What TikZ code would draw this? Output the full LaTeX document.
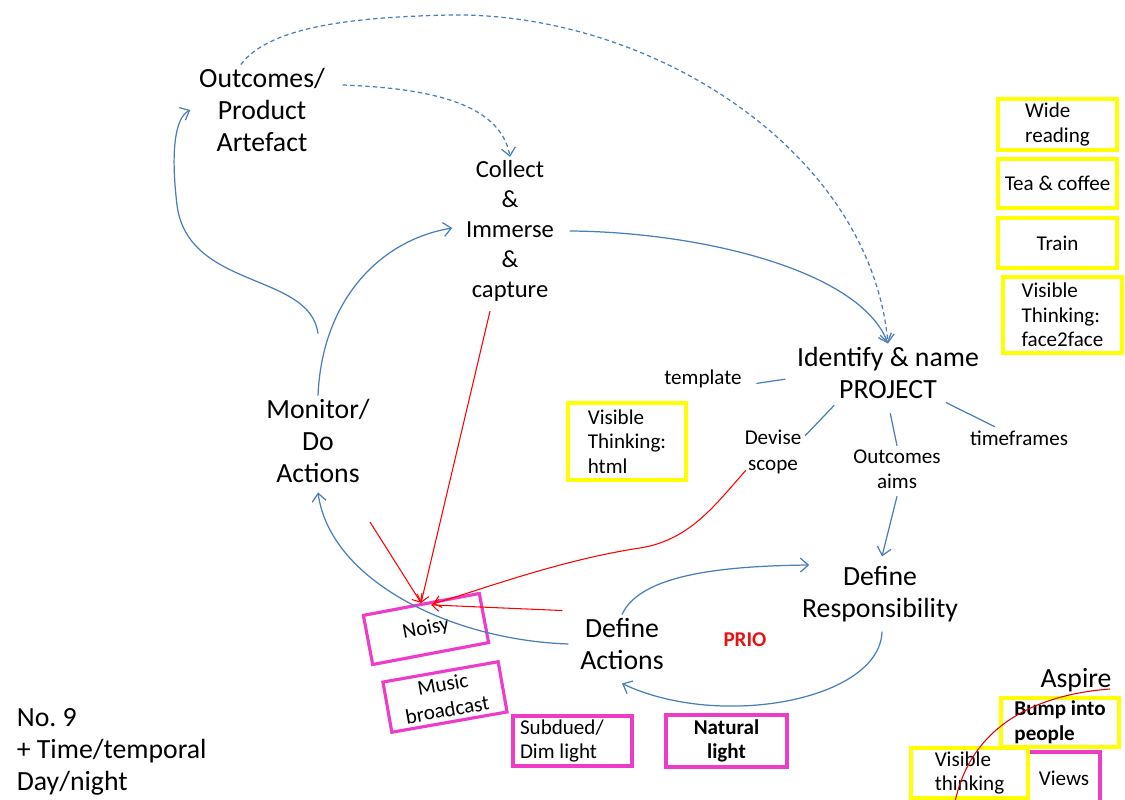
\documentclass[tikz,border=0pt]{standalone}
\usepackage{fontspec}
\setmainfont{Carlito}
\usetikzlibrary{arrows.meta}
\definecolor{lineblue}{RGB}{74,126,187}
\definecolor{boxyellow}{RGB}{255,255,0}
\definecolor{boxpink}{RGB}{238,60,200}
\definecolor{prioRed}{RGB}{228,20,20}
\begin{document}
\begin{tikzpicture}[x=0.02cm,y=-0.02cm,
  lbl/.style={font=\fontsize{15.8}{18.1}\selectfont, align=center, inner sep=2pt},
  lblc/.style={font=\fontsize{14}{17}\selectfont, align=center, inner sep=2pt},
  sm/.style={font=\fontsize{12}{14.2}\selectfont, align=center, inner sep=2pt},
  ybox/.style={draw=boxyellow, line width=1.8pt, font=\fontsize{12}{14}\selectfont, align=left, inner sep=0pt},
  pbox/.style={draw=boxpink, line width=1.8pt, font=\fontsize{12}{14}\selectfont, align=center, inner sep=0pt},
  flow/.style={draw=lineblue, line width=0.7pt, -{Straight Barb[length=1.6mm,width=2.8mm]}},
  dflow/.style={flow, dash pattern=on 2.5pt off 1.8pt},
  tie/.style={draw=lineblue, line width=0.7pt},
  rflow/.style={draw=red, line width=0.6pt, -{Straight Barb[length=1.4mm,width=2.4mm]}},
  scribble/.style={draw=red!85!black, line width=0.6pt},
]
\useasboundingbox (0,0) rectangle (1125,800);

% process steps
\node[lbl]  (out)  at (262,110) {Outcomes/\\Product\\Artefact};
\node[lblc] (coll) at (510,231) {Collect\\\&\\Immerse\\\&\\capture};
\node[lbl]  (mon)  at (318,441) {Monitor/\\Do\\Actions};
\node[lbl]  (proj) at (888,373) {Identify \& name\\PROJECT};
\node[lbl]  (resp) at (880,594) {Define\\Responsibility};
\node[lbl]  (act)  at (622,644) {Define\\Actions};

% project facets
\node[sm] (tmpl) at (703,379) {template};
\node[sm, font=\fontsize{12}{15.3}\selectfont] (dev) at (773,452) {Devise\\scope};
\node[sm] (aims) at (897,469) {Outcomes\\aims};
\node[sm] (tf)   at (1019,438) {timeframes};
\node[sm, text=prioRed, font=\fontsize{12}{14}\selectfont\bfseries] (prio) at (745,640) {PRIO};

% yellow boxes
\node[ybox, minimum width=2.36cm, minimum height=1.54cm] (vth) at (627,441.5) {Visible\\Thinking:\\html};
\node[ybox, minimum width=2.38cm, minimum height=1.02cm] (wide) at (1057.5,124.5) {Wide\\reading};
\node[ybox, minimum width=2.38cm, minimum height=0.98cm] (tea) at (1057.5,183.5) {Tea \& coffee};
\node[ybox, minimum width=2.38cm, minimum height=1.0cm] (train) at (1057.5,243) {Train};
\node[ybox, minimum width=2.38cm, minimum height=1.52cm] (vtf) at (1062.5,315) {Visible\\Thinking:\\face2face};

% pink boxes
\node[pbox, minimum width=2.36cm, minimum height=1.0cm, rotate=10.7] (noisy) at (426,629) {Noisy};
\node[pbox, font=\fontsize{12}{14.6}\selectfont, minimum width=2.34cm, minimum height=1.02cm, rotate=10] (music) at (445,697) {Music\\broadcast};
\node[pbox, align=flush left, text width=2.1cm, inner xsep=0.14cm, minimum width=2.38cm, minimum height=1.0cm] (subd) at (572.5,741) {Subdued/\\Dim light};
\node[pbox, font=\fontsize{12}{14}\selectfont\bfseries, minimum width=2.42cm, minimum height=1.04cm] (nat) at (726.5,741) {Natural\\light};
\node[pbox, minimum width=1.44cm, minimum height=1.04cm] (views) at (1064,778) {Views};

% corner group
\node[lbl] (asp) at (1076,680) {Aspire};
\node[ybox, font=\fontsize{12}{14}\selectfont\bfseries, minimum width=2.36cm, minimum height=0.98cm] (bump) at (1060,722.5) {Bump into\\people};
\node[ybox, minimum width=2.34cm, minimum height=1.0cm] (vthk) at (969.5,773) {Visible\\thinking};

% note
\node[lbl, align=left, anchor=west] (note) at (13,752) {No.\ 9\\+ Time/temporal\\Day/night};

% blue flow
\draw[dflow] (out.115) .. controls (270,25) and (360,17) .. (450,15)
             .. controls (650,12) and (870,150) .. (proj.north);
\draw[dflow] ([shift={(14,-25)}]out.east) .. controls (420,88) and (500,100) .. (coll.north);
\draw[flow] ([shift={(12,0)}]coll.east) .. controls (700,232) and (860,270) .. (proj.north);
\draw[flow] ([shift={(0,-62)}]mon.north) .. controls (310,272) and (188,290) .. (177,205)
            .. controls (171,155) and (174,118) .. ([shift={(-5,0)}]out.west);
\draw[flow] (mon.north) .. controls (322,300) and (380,240) .. ([shift={(-10,-3)}]coll.west);
\draw[flow] ([shift={(-8,0)}]act.west) .. controls (450,640) and (330,580) .. ([shift={(0,6)}]mon.south);
\draw[flow] (act.north) .. controls (640,575) and (720,566) .. ([shift={(11,-29)}]resp.west);
\draw[flow] ([shift={(2,6)}]resp.south) .. controls (880,700) and (720,730) .. ([shift={(0,10)}]act.south);
\draw[flow] ([shift={(0,4)}]aims.south) -- ([shift={(2,-6)}]resp.north);

% facet ties
\draw[tie, shorten <=0.16cm, shorten >=0.22cm] ([shift={(0,5)}]proj.west) -- ([shift={(0,6)}]tmpl.east);
\draw[tie, shorten <=0.08cm] (proj.210) -- ([shift={(0,10)}]dev.north east);
\draw[tie, shorten <=0.22cm] (proj.south) -- (aims.north);
\draw[tie] (proj.-27) -- (tf.155);

% red influences
\coordinate (rs) at (370,522);
\draw[rflow] ([shift={(-20,6)}]coll.south) -- (noisy.north);
\draw[rflow] (rs) -- (noisy.north);
\draw[rflow] ([shift={(-14,-4)}]act.north west) -- ([shift={(10,2)}]noisy.north);
\draw[rflow] ([shift={(5,-8)}]dev.south west) .. controls (715,505) and (690,540) .. (640,548)
             .. controls (560,560) and (480,590) .. ([shift={(12,1)}]noisy.north);

% aspire stroke
\coordinate (a1) at (1110,689);
\coordinate (a2) at (955,802);
\draw[scribble] (a1) .. controls (1030,695) and (970,730) .. (a2);
\end{tikzpicture}
\end{document}
